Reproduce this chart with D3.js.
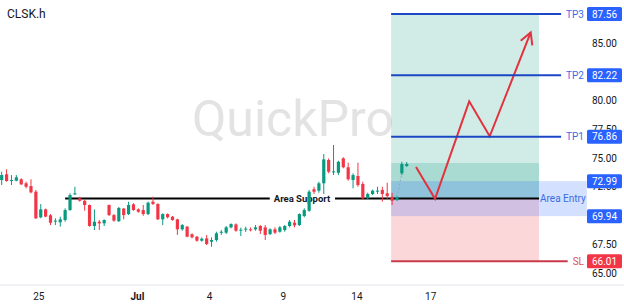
<!DOCTYPE html>
<html>
<head>
<meta charset="utf-8">
<script src="https://cdn.jsdelivr.net/npm/d3@7"></script>
<style>
body { margin: 0; background: #fff; }
svg { display: block; font-family: Roboto, "Noto Sans", sans-serif; }
</style>
</head>
<body>
<svg></svg>
<script>
let width = 624, height = 307;

// candles (hourly)
let open = [73.09,73.59,73.03,73.03,73.15,72.80,72.56,72.07,69.84,70.53,
  70.01,69.50,69.40,69.60,70.47,71.90,71.49,71.28,70.91,69.08,
  69.45,69.31,70.91,70.03,69.49,70.60,70.12,70.97,70.53,70.47,
  70.12,71.20,71.00,69.66,70.12,69.89,69.66,68.79,69.02,68.36,
  68.15,67.80,68.00,67.71,67.86,68.50,68.50,68.96,69.22,68.73,
  68.82,68.79,68.79,69.08,68.96,68.38,68.79,68.58,68.73,69.08,
  69.37,69.16,69.95,70.41,72.28,72.16,72.80,74.83,73.81,73.72,
  74.98,74.20,73.09,73.44,72.74,71.49,71.87,72.15,72.22,71.93,
  71.63,71.34,73.67,74.31];
let high = [73.81,74.02,73.52,73.52,73.24,72.94,73.15,72.22,70.99,70.60,
  70.12,69.75,69.89,70.62,71.93,72.50,71.63,71.34,70.95,70.53,
  69.60,69.66,70.95,70.12,70.74,70.65,71.20,71.06,70.62,70.91,
  71.20,71.63,71.06,70.18,70.18,69.95,69.71,69.25,69.08,68.44,
  68.21,68.09,68.29,68.09,68.58,68.73,69.08,69.31,69.31,68.94,
  69.02,68.96,69.16,69.16,69.16,68.88,68.96,69.08,69.16,69.60,
  69.60,70.18,70.62,72.22,72.50,72.94,75.35,74.98,76.14,74.77,
  75.07,74.60,73.67,74.60,72.94,71.98,72.25,72.50,72.50,72.85,
  71.98,71.72,74.68,74.66];
let low = [72.65,72.94,72.65,72.98,72.65,72.36,71.93,69.69,69.75,69.84,
  69.16,69.16,69.02,69.45,70.41,71.78,71.20,70.41,69.02,68.73,
  68.73,69.08,69.95,69.45,69.45,69.66,70.03,70.41,70.24,69.97,
  70.03,70.91,69.60,69.16,69.75,69.55,68.30,68.67,68.09,68.00,
  67.71,67.71,67.42,67.27,67.71,68.30,68.38,68.88,68.58,68.21,
  68.56,68.61,68.67,68.38,67.86,68.29,68.38,68.50,68.58,68.96,
  68.96,69.08,69.84,70.32,71.87,71.98,71.87,73.67,73.52,73.52,
  74.11,73.03,72.36,72.50,71.41,71.41,71.78,71.87,71.20,71.41,
  70.91,71.26,73.52,74.22];
let close = [73.52,73.00,73.09,73.32,72.71,72.50,72.01,69.75,70.53,69.90,
  69.36,69.55,69.66,70.47,71.78,71.93,71.28,70.91,69.08,69.45,
  69.31,69.60,70.03,69.55,70.65,70.03,70.91,70.47,70.32,70.12,
  71.11,71.00,69.66,70.12,69.84,69.60,68.79,69.16,68.15,68.09,
  67.80,67.97,67.51,67.86,68.44,68.58,68.96,69.25,68.67,68.76,
  68.85,68.77,68.96,68.67,68.30,68.79,68.50,68.96,69.08,69.45,
  69.14,70.12,70.47,72.07,72.07,72.80,74.89,73.81,73.84,74.68,
  74.20,73.15,73.52,72.65,71.49,71.87,72.16,72.16,71.87,71.69,
  71.28,71.58,74.48,74.48];

// x axis labels (at bar index)
let tickIdx = [7.5, 27.7, 42.5, 57.6, 72.7, 87.8];
let tickLabels = ["25", "Jul", "4", "9", "14", "17"];

// price scale labels that are not hidden under price boxes
let priceTicks = [65, 67.5, 72.5, 75, 77.5, 80, 85];

// trade setup
let levelNames = ["TP3", "TP2", "TP1", "SL"];
let levelValues = [87.56, 82.22, 76.86, 66.01];
let entryHigh = 72.99, entryLow = 69.94;
let supportLevel = 71.48;
let supportFrom = 13.0;
let nearTop = 74.57;
let zoneFrom = 79.8, zoneTo = 110.1, entryBoxTo = 119.9;

// projected path (bar index, price)
let arrowIdx = [84.9, 88.8, 95.8, 100.0, 108.4];
let arrowPrice = [74.22, 71.45, 79.95, 76.90, 85.95];

let data = open.map((o, i) => ({i: i, o: o, h: high[i], l: low[i], c: close[i]}));

let x = d3.scaleLinear().domain([0, 100]).range([1.7, 489.7]);
let y = d3.scaleLinear().domain([65, 87.56]).range([272.8, 14]);

let svg = d3.select("svg").attr("width", width).attr("height", height);

// watermark
svg.append("text")
  .attr("x", 293).attr("y", 136)
  .attr("text-anchor", "middle")
  .attr("font-size", 50)
  .attr("fill", "#e3e3e3")
  .text("QuickPro");

// zones
let zones = svg.append("g");
zones.append("rect")
  .attr("x", x(zoneFrom)).attr("width", x(zoneTo) - x(zoneFrom))
  .attr("y", y(levelValues[0])).attr("height", y(supportLevel) - y(levelValues[0]))
  .attr("fill", "rgba(8,153,129,0.19)");
zones.append("rect")
  .attr("x", x(zoneFrom)).attr("width", x(zoneTo) - x(zoneFrom))
  .attr("y", y(nearTop)).attr("height", y(supportLevel) - y(nearTop))
  .attr("fill", "rgba(8,153,129,0.2)");
zones.append("rect")
  .attr("x", x(zoneFrom)).attr("width", x(zoneTo) - x(zoneFrom))
  .attr("y", y(supportLevel)).attr("height", y(levelValues[3]) - y(supportLevel))
  .attr("fill", "rgba(242,54,69,0.2)");
zones.append("rect")
  .attr("x", x(zoneFrom)).attr("width", x(entryBoxTo) - x(zoneFrom))
  .attr("y", y(entryHigh)).attr("height", y(entryLow) - y(entryHigh))
  .attr("fill", "rgba(41,98,255,0.2)");
zones.append("text")
  .attr("x", (x(zoneTo) + x(entryBoxTo)) / 2).attr("y", y(supportLevel) + 3.5)
  .attr("text-anchor", "middle")
  .attr("font-size", 10)
  .attr("fill", "#3a6be6")
  .text("Area Entry");

// support line
svg.append("line")
  .attr("x1", x(supportFrom)).attr("x2", x(zoneTo))
  .attr("y1", y(supportLevel)).attr("y2", y(supportLevel))
  .attr("stroke", "#000").attr("stroke-width", 2);
let sup = svg.append("text")
  .attr("x", 302).attr("y", y(supportLevel) + 3.5)
  .attr("text-anchor", "middle")
  .attr("font-size", 9.5).attr("font-weight", "bold")
  .attr("fill", "#131722")
  .text("Area Support");
let sb = sup.node().getBBox();
svg.insert("rect", () => sup.node())
  .attr("x", sb.x - 4).attr("y", sb.y).attr("width", sb.width + 8).attr("height", sb.height)
  .attr("fill", "#fff");

// candles
let up = "#089981", down = "#f23645";
let cg = svg.append("g");
cg.selectAll("line")
  .data(data).enter().append("line")
  .attr("x1", d => x(d.i)).attr("x2", d => x(d.i))
  .attr("y1", d => y(d.h)).attr("y2", d => y(d.l))
  .attr("stroke", d => d.c >= d.o ? up : down).attr("stroke-width", 1);
cg.selectAll("rect")
  .data(data).enter().append("rect")
  .attr("x", d => x(d.i) - 1.6).attr("width", 3.2)
  .attr("y", d => y(Math.max(d.o, d.c)))
  .attr("height", d => Math.max(1, Math.abs(y(d.o) - y(d.c))))
  .attr("fill", d => d.c >= d.o ? up : down);

// gap projection
svg.append("line")
  .attr("x1", x(81)).attr("y1", y(close[81]))
  .attr("x2", x(82)).attr("y2", y(open[82]))
  .attr("stroke", "#8fa7c9").attr("stroke-width", 1).attr("stroke-dasharray", "2,2");

// arrow
let pts = arrowIdx.map((d, i) => [x(d), y(arrowPrice[i])]);
svg.append("path")
  .attr("d", d3.line()(pts))
  .attr("fill", "none").attr("stroke", "#e3323f").attr("stroke-width", 2)
  .attr("stroke-linejoin", "miter");
let tip = pts[pts.length - 1], prev = pts[pts.length - 2];
let ang = Math.atan2(tip[1] - prev[1], tip[0] - prev[0]);
let head = [
  [tip[0] - 13 * Math.cos(ang - 0.5), tip[1] - 13 * Math.sin(ang - 0.5)],
  tip,
  [tip[0] - 13 * Math.cos(ang + 0.5), tip[1] - 13 * Math.sin(ang + 0.5)]
];
svg.append("path")
  .attr("d", d3.line()(head))
  .attr("fill", "none").attr("stroke", "#e3323f").attr("stroke-width", 2);

// y axis labels
let yAxis = svg.append("g")
  .attr("transform", "translate(617,0)")
  .call(d3.axisLeft(y).tickValues(priceTicks).tickFormat(d3.format(".2f")).tickSize(0).tickPadding(0));
yAxis.select(".domain").remove();
yAxis.selectAll("text").attr("font-size", 10).attr("fill", "#131722").attr("font-family", "Roboto");

// levels
levelValues.forEach((v, i) => {
  let col = levelNames[i] == "SL" ? "#c9394a" : "#1b47c4";
  let lab = levelNames[i] == "SL" ? "#e0505e" : "#3a6be6";
  let t = svg.append("text")
    .attr("x", 584).attr("y", y(v) + 3.5)
    .attr("text-anchor", "end")
    .attr("font-size", 10).attr("fill", lab)
    .text(levelNames[i]);
  let left = 584 - t.node().getComputedTextLength();
  svg.append("line")
    .attr("x1", x(zoneFrom)).attr("x2", left - 5)
    .attr("y1", y(v)).attr("y2", y(v))
    .attr("stroke", col).attr("stroke-width", 2);
});

// price boxes
let boxValues = levelValues.concat([entryHigh, entryLow]);
boxValues.forEach((v, i) => {
  let fill = v == levelValues[3] ? "#f23645" : "#2962ff";
  svg.append("rect")
    .attr("x", 587).attr("y", y(v) - 7).attr("width", 35).attr("height", 14)
    .attr("rx", 1.5).attr("fill", fill);
  svg.append("text")
    .attr("x", 604.5).attr("y", y(v) + 3.6)
    .attr("text-anchor", "middle")
    .attr("font-size", 10).attr("fill", "#fff")
    .text(v.toFixed(2));
});

// x axis
svg.append("line")
  .attr("x1", 0).attr("x2", width).attr("y1", 285).attr("y2", 285)
  .attr("stroke", "#e0e3eb");
let xAxis = svg.append("g")
  .attr("transform", "translate(0,285)")
  .call(d3.axisBottom(x).tickValues(tickIdx).tickFormat((d, i) => tickLabels[i]).tickSize(0).tickPadding(8));
xAxis.select(".domain").remove();
xAxis.selectAll("text")
  .attr("font-size", 10).attr("fill", "#131722").attr("font-family", "Roboto")
  .attr("font-weight", (d, i) => tickLabels[i] == "Jul" ? "bold" : "normal");

// title
svg.append("text")
  .attr("x", 7).attr("y", 18)
  .attr("font-size", 12).attr("fill", "#131722")
  .text("CLSK.h");
</script>
</body>
</html>
